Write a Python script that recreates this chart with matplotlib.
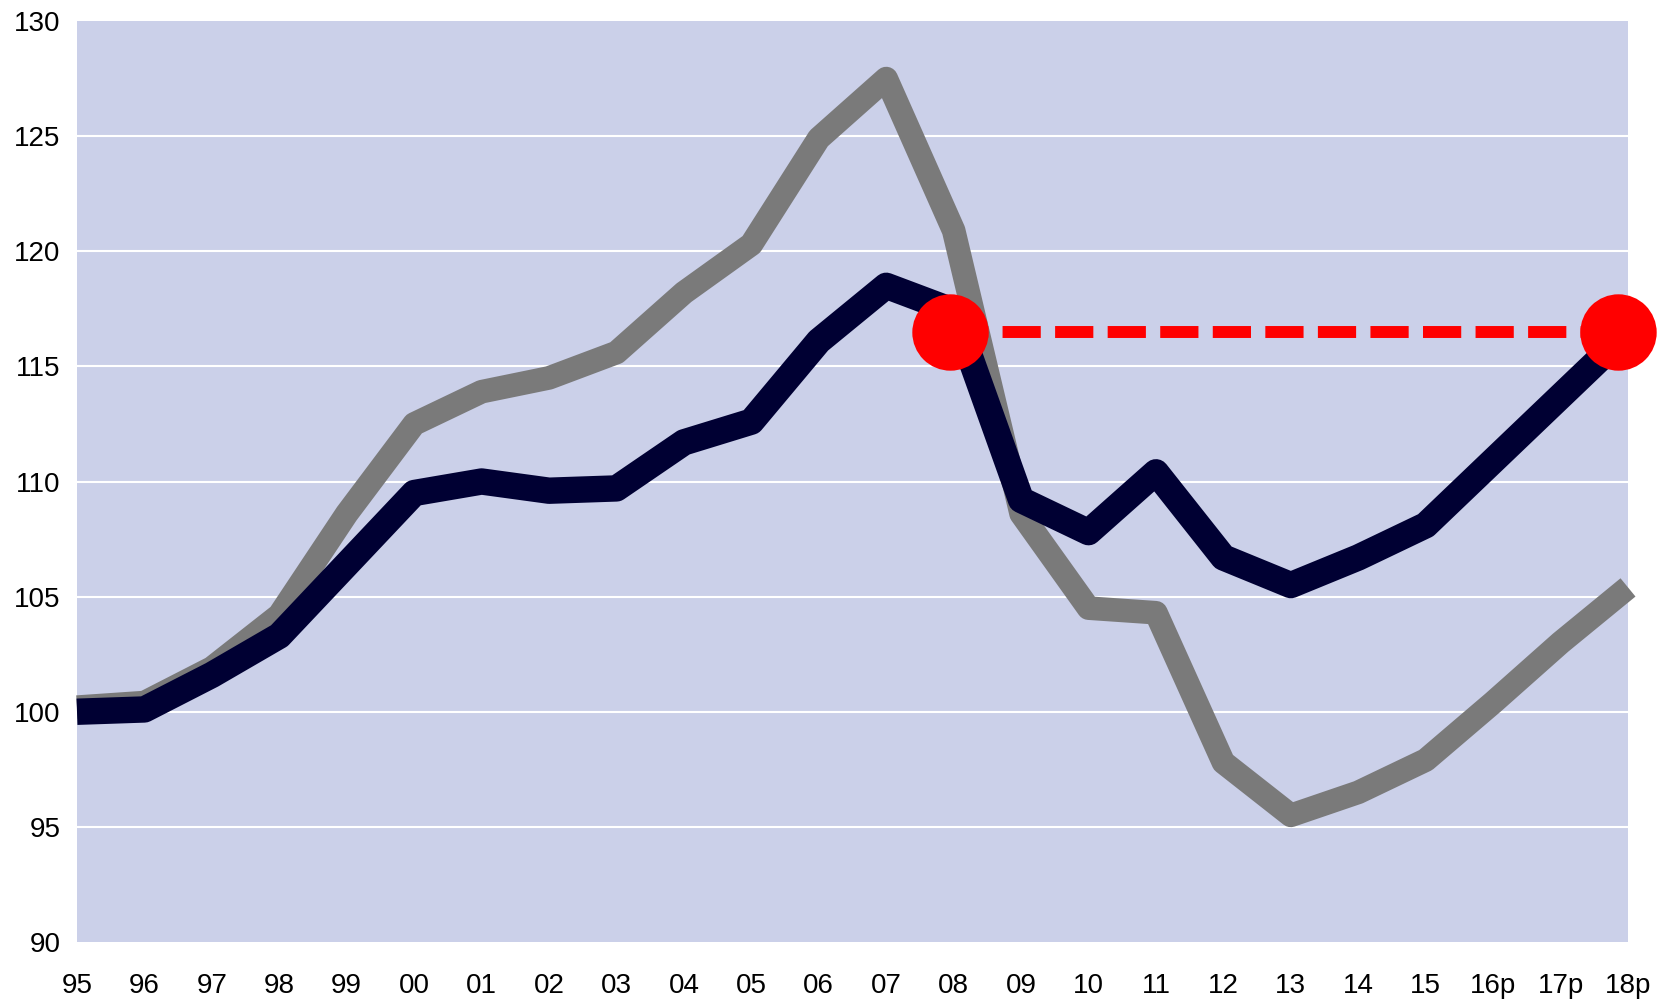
import numpy as np
import matplotlib
matplotlib.use("Agg")
import matplotlib.pyplot as plt

# year labels along the x axis
years = ["95", "96", "97", "98", "99", "00", "01", "02", "03", "04", "05", "06",
         "07", "08", "09", "10", "11", "12", "13", "14", "15", "16p", "17p", "18p"]

# navy series (index, 95 = 100)
navy = [100.0, 100.1, 101.6, 103.3, 106.4, 109.5, 110.0, 109.6, 109.7, 111.7, 112.6, 116.1,
        118.5, 117.4, 109.2, 107.8, 110.4, 106.7, 105.5, 106.7, 108.1, 110.9, 113.7, 116.5]

# gray series
gray = [100.2, 100.4, 101.9, 104.2, 108.6, 112.5, 113.9, 114.5, 115.6, 118.2, 120.3, 124.9,
        127.5, 120.9, 108.6, 104.5, 104.3, 97.8, 95.5, 96.5, 97.9, 100.4, 103.0, 105.4]

# red reference level, from 08 to 18p
red_from = "08"
red_to = "18p"
red_level = 116.5

yticks = [90, 95, 100, 105, 110, 115, 120, 125, 130]

plt.rcParams['font.family'] = ['Liberation Sans', 'DejaVu Sans']

fig = plt.figure(figsize=(16.59, 10.05), dpi=100)
ax = fig.add_axes([77/1659, 1 - 942/1005, (1628 - 77)/1659, (942 - 21)/1005])
ax.set_facecolor("#CBD0E9")

x = np.arange(len(years))

for yv in yticks[1:-1]:
    ax.axhline(yv, color="white", lw=1.5, zorder=1)

ax.plot(x, gray, color="#7A7A7A", lw=17, solid_capstyle="butt",
        solid_joinstyle="round", clip_on=False, zorder=2)
ax.plot(x, navy, color="#000033", lw=19, solid_capstyle="butt",
        solid_joinstyle="round", clip_on=False, zorder=3)

# markers sit a touch left of the category centres in the original
i0 = years.index(red_from) - 0.05
i1 = years.index(red_to) - 0.15
ax.plot([i0, i1], [red_level, red_level], color="#FF0000", lw=8.6,
        ls=(0, (3.2, 1.2)), dash_capstyle="butt", clip_on=False, zorder=4)
ax.plot([i0, i1], [red_level, red_level], "o", color="#FF0000", ms=55,
        mec="none", clip_on=False, zorder=5)

ax.set_xlim(0, len(years) - 1)
ax.set_ylim(90, 130)
ax.set_xticks(x)
ax.set_xticklabels(years)
ax.set_yticks(yticks)
ax.tick_params(axis="both", length=0, labelsize=20, colors="black")
ax.tick_params(axis="x", pad=22)
ax.tick_params(axis="y", pad=12)
for s in ax.spines.values():
    s.set_visible(False)

fig.savefig("out.png", dpi=100)
